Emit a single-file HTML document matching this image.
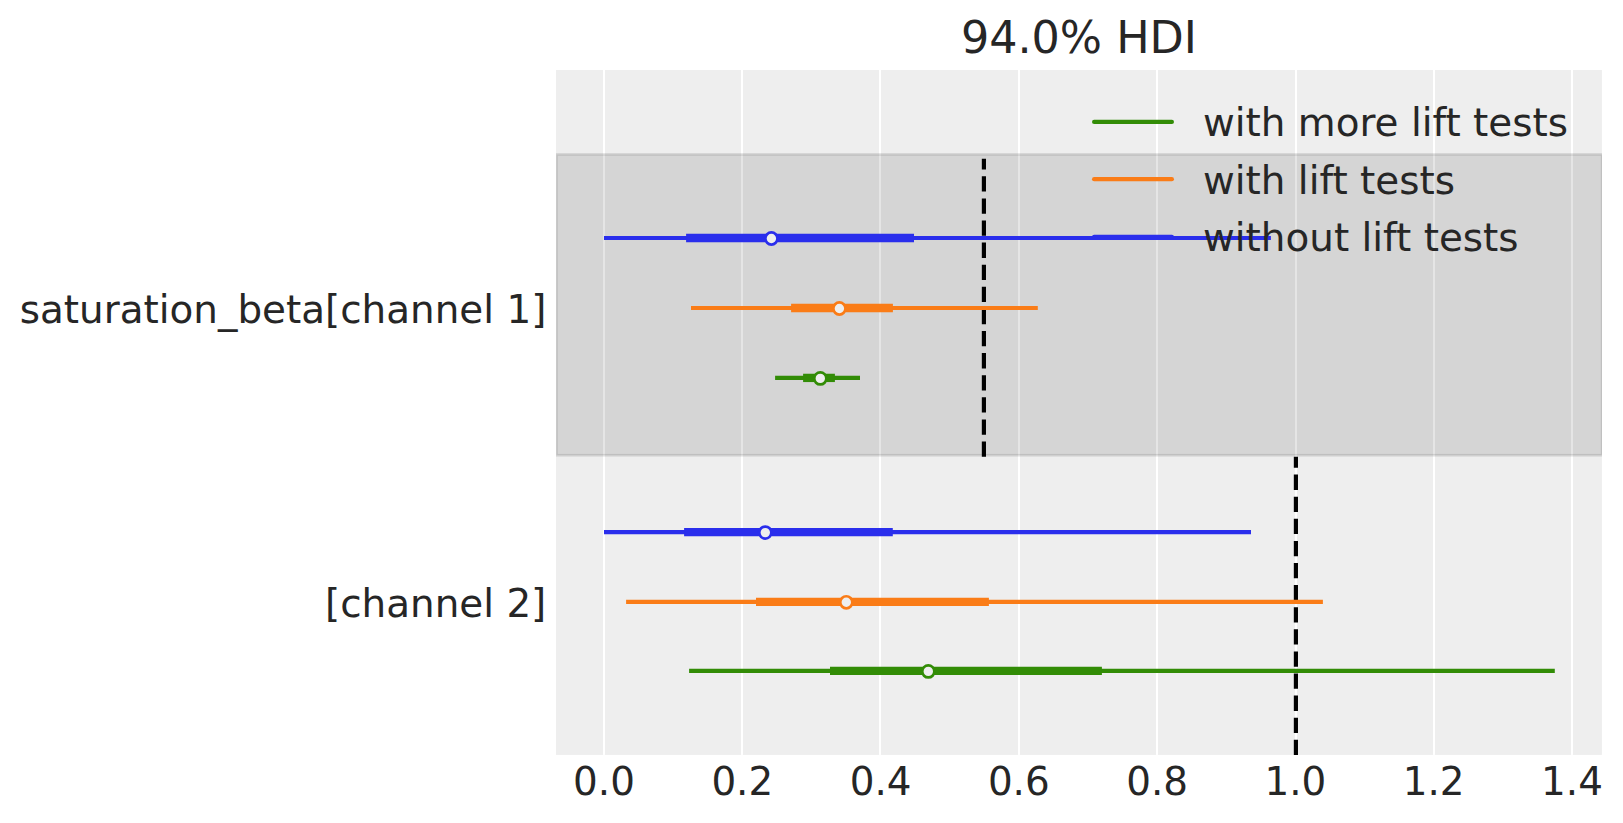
<!DOCTYPE html>
<html lang="en"><head><meta charset="utf-8"><title>94.0% HDI forest plot</title>
<style>html,body{margin:0;padding:0;background:#fff;}body{width:1623px;height:823px;overflow:hidden;}svg{display:block;}text{font-family:"DejaVu Sans","Liberation Sans",sans-serif;fill:#262626;}</style>
</head><body>
<svg width="1623" height="823" viewBox="0 0 1623 823">
<defs><clipPath id="ax"><rect x="556.0" y="70.0" width="1045.9" height="684.9"/></clipPath></defs>
<rect x="0" y="0" width="1623" height="823" fill="#ffffff"/>
<rect x="556.0" y="70.0" width="1045.9" height="684.9" fill="#eeeeee"/>
<g clip-path="url(#ax)">
<rect x="603" y="70.0" width="2" height="684.9" fill="#ffffff"/>
<rect x="741" y="70.0" width="2" height="684.9" fill="#ffffff"/>
<rect x="879" y="70.0" width="2" height="684.9" fill="#ffffff"/>
<rect x="1018" y="70.0" width="2" height="684.9" fill="#ffffff"/>
<rect x="1156" y="70.0" width="2" height="684.9" fill="#ffffff"/>
<rect x="1295" y="70.0" width="2" height="684.9" fill="#ffffff"/>
<rect x="1433" y="70.0" width="2" height="684.9" fill="#ffffff"/>
<rect x="1571" y="70.0" width="2" height="684.9" fill="#ffffff"/>
<rect x="556.4" y="154.4" width="1045.8" height="300.9" fill="#000" fill-opacity="0.1" stroke="#000" stroke-opacity="0.1" stroke-width="2.78"/>
<line x1="983.9" y1="456.8" x2="983.9" y2="158.7" stroke="#000" stroke-width="4.17" stroke-dasharray="15.3 6.8"/>
<line x1="1295.9" y1="755.1" x2="1295.9" y2="456.8" stroke="#000" stroke-width="4.17" stroke-dasharray="15.3 6.8"/>
<line x1="604.0" y1="238.0" x2="1270.9" y2="238.0" stroke="#2a2eec" stroke-width="4.17"/>
<line x1="686.1" y1="238.0" x2="914.0" y2="238.0" stroke="#2a2eec" stroke-width="8.33"/>
<circle cx="771.4" cy="238.5" r="6.05" fill="#eeeeee" stroke="#2a2eec" stroke-width="2.7"/>
<line x1="691.0" y1="308.0" x2="1037.8" y2="308.0" stroke="#fa7c17" stroke-width="4.17"/>
<line x1="791.1" y1="308.0" x2="892.9" y2="308.0" stroke="#fa7c17" stroke-width="8.33"/>
<circle cx="839.4" cy="308.5" r="6.05" fill="#eeeeee" stroke="#fa7c17" stroke-width="2.7"/>
<line x1="775.1" y1="377.9" x2="860.0" y2="377.9" stroke="#328c06" stroke-width="4.17"/>
<line x1="803.1" y1="377.9" x2="834.9" y2="377.9" stroke="#328c06" stroke-width="8.33"/>
<circle cx="820.3" cy="378.4" r="6.05" fill="#eeeeee" stroke="#328c06" stroke-width="2.7"/>
<line x1="604.0" y1="532.1" x2="1251.0" y2="532.1" stroke="#2a2eec" stroke-width="4.17"/>
<line x1="684.1" y1="532.1" x2="892.8" y2="532.1" stroke="#2a2eec" stroke-width="8.33"/>
<circle cx="765.3" cy="532.6" r="6.05" fill="#eeeeee" stroke="#2a2eec" stroke-width="2.7"/>
<line x1="626.1" y1="601.8" x2="1322.9" y2="601.8" stroke="#fa7c17" stroke-width="4.17"/>
<line x1="756.0" y1="601.8" x2="988.9" y2="601.8" stroke="#fa7c17" stroke-width="8.33"/>
<circle cx="846.3" cy="602.3" r="6.05" fill="#eeeeee" stroke="#fa7c17" stroke-width="2.7"/>
<line x1="689.1" y1="670.9" x2="1554.8" y2="670.9" stroke="#328c06" stroke-width="4.17"/>
<line x1="830.0" y1="670.9" x2="1101.9" y2="670.9" stroke="#328c06" stroke-width="8.33"/>
<circle cx="928.3" cy="671.4" r="6.05" fill="#eeeeee" stroke="#328c06" stroke-width="2.7"/>
</g>
<line x1="1094.1" y1="121.9" x2="1171.9" y2="121.9" stroke="#328c06" stroke-width="4.17" stroke-linecap="round"/>
<text x="1203.0" y="136.3" font-size="38.89">with more lift tests</text>
<line x1="1094.1" y1="179.2" x2="1171.9" y2="179.2" stroke="#fa7c17" stroke-width="4.17" stroke-linecap="round"/>
<text x="1203.0" y="193.8" font-size="38.89">with lift tests</text>
<line x1="1094.1" y1="236.9" x2="1171.9" y2="236.9" stroke="#2a2eec" stroke-width="4.17" stroke-linecap="round"/>
<text x="1203.0" y="251.2" font-size="38.89">without lift tests</text>
<text x="1078.9" y="52.9" font-size="44.44" text-anchor="middle">94.0% HDI</text>
<text x="546.3" y="323.3" font-size="38.89" text-anchor="end">saturation_beta[channel 1]</text>
<text x="546.3" y="617.1" font-size="38.89" text-anchor="end">[channel 2]</text>
<text x="604.0" y="795.0" font-size="38.89" text-anchor="middle">0.0</text>
<text x="742.3" y="795.0" font-size="38.89" text-anchor="middle">0.2</text>
<text x="880.6" y="795.0" font-size="38.89" text-anchor="middle">0.4</text>
<text x="1018.8" y="795.0" font-size="38.89" text-anchor="middle">0.6</text>
<text x="1157.1" y="795.0" font-size="38.89" text-anchor="middle">0.8</text>
<text x="1295.4" y="795.0" font-size="38.89" text-anchor="middle">1.0</text>
<text x="1433.7" y="795.0" font-size="38.89" text-anchor="middle">1.2</text>
<text x="1572.0" y="795.0" font-size="38.89" text-anchor="middle">1.4</text>
</svg></body></html>
